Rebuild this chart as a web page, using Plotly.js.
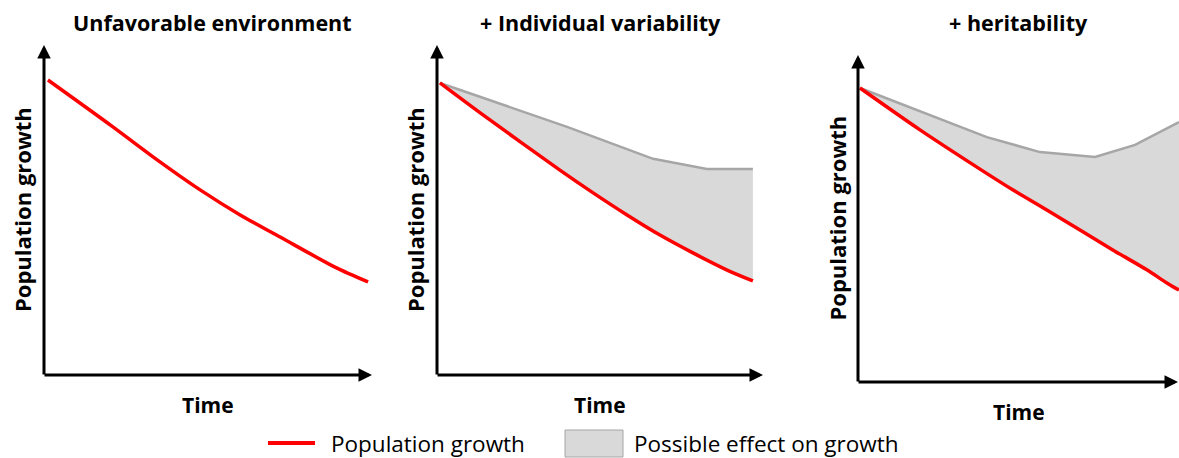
<!DOCTYPE html>
<html><head><meta charset="utf-8">
<script src="https://cdn.plot.ly/plotly-3.0.1.min.js"></script>
<style>html,body{margin:0;padding:0;background:#fff}#chart{width:1179px;height:458px}</style>
</head><body><div id="chart"></div>
<script>
// ---- text ----
const panelTitles = ["Unfavorable environment", "+ Individual variability", "+ heritability"];
const xLabel = "Time";
const yLabel = "Population growth";
const legendLabels = ["Population growth", "Possible effect on growth"];

// ---- panel 1: unfavorable environment ----
const p1Time   = [0.12, 2.10, 3.45, 4.76, 5.98, 7.20, 8.87, 9.88];
const p1Growth = [8.94, 7.52, 6.52, 5.61, 4.85, 4.18, 3.27, 2.82];

// ---- panel 2: + individual variability ----
const p2Time     = [0.09, 1.41, 3.77, 4.79, 5.83, 6.84, 7.85, 8.90, 9.69];
const p2Growth   = [8.85, 7.88, 6.21, 5.52, 4.85, 4.24, 3.70, 3.18, 2.85];
const p2UpperTime = [0.09, 3.99, 6.63, 8.28, 9.69];
const p2Upper     = [8.85, 7.52, 6.55, 6.24, 6.24];

// ---- panel 3: + heritability ----
const p3Time     = [0.06, 1.89, 3.72, 4.73, 5.76, 6.77, 7.77, 8.81, 9.42, 9.79];
const p3Growth   = [8.99, 7.71, 6.51, 5.87, 5.26, 4.65, 4.04, 3.43, 3.03, 2.81];
const p3UpperTime = [0.06, 3.93, 5.55, 7.23, 8.45, 9.79];
const p3Upper     = [8.99, 7.49, 7.03, 6.88, 7.25, 7.95];

// ---- styling ----
const W = 1179, H = 458;
const RED = "#ff0000", FILL = "#d9d9d9", EDGE = "#a6a6a6";
const FONT = "'Open Sans', Lato, sans-serif";

const px2x = p => p / W;
const py2y = p => 1 - p / H;

const dom = [
  {x: [px2x(44),  px2x(372)], y: [py2y(375), py2y(45)], xr: [0, 10],   yr: [0, 10]},
  {x: [px2x(437), px2x(763)], y: [py2y(375), py2y(45)], xr: [0, 10],   yr: [0, 10]},
  {x: [px2x(858), 1],         y: [py2y(382), py2y(55)], xr: [0, 9.79], yr: [0, 10]}
];

const redLine = {color: RED, width: 3.5, shape: "spline", smoothing: 0.8};
const hiddenLine = {color: "rgba(0,0,0,0)", width: 1, shape: "spline", smoothing: 0.8};

const traces = [
  {x: p1Time, y: p1Growth, xaxis: "x", yaxis: "y", mode: "lines", line: redLine, hoverinfo: "skip"},

  {x: p2Time, y: p2Growth, xaxis: "x2", yaxis: "y2", mode: "lines", line: hiddenLine, hoverinfo: "skip"},
  {x: p2UpperTime, y: p2Upper, xaxis: "x2", yaxis: "y2", mode: "lines", fill: "tonexty",
   fillcolor: FILL, line: {color: EDGE, width: 2.5}, hoverinfo: "skip"},
  {x: p2Time, y: p2Growth, xaxis: "x2", yaxis: "y2", mode: "lines", line: redLine, hoverinfo: "skip"},

  {x: p3Time, y: p3Growth, xaxis: "x3", yaxis: "y3", mode: "lines", line: hiddenLine, hoverinfo: "skip"},
  {x: p3UpperTime, y: p3Upper, xaxis: "x3", yaxis: "y3", mode: "lines", fill: "tonexty",
   fillcolor: FILL, line: {color: EDGE, width: 2.5}, hoverinfo: "skip"},
  {x: p3Time, y: p3Growth, xaxis: "x3", yaxis: "y3", mode: "lines", line: redLine, hoverinfo: "skip"}
];

const layout = {
  width: W, height: H,
  margin: {l: 0, r: 0, t: 0, b: 0},
  paper_bgcolor: "#fff", plot_bgcolor: "#fff",
  showlegend: false,
  font: {family: FONT, color: "#000"},
  annotations: [], shapes: []
};

const axisBase = {showgrid: false, zeroline: false, showticklabels: false, ticks: "", showline: false, fixedrange: true};
dom.forEach((d, i) => {
  const s = i === 0 ? "" : String(i + 1);
  layout["xaxis" + s] = Object.assign({}, axisBase, {domain: d.x, range: d.xr, anchor: "y" + s});
  layout["yaxis" + s] = Object.assign({}, axisBase, {domain: d.y, range: d.yr, anchor: "x" + s});

  const x0 = d.x[0], y0 = d.y[0];
  const hPx = (d.y[1] - d.y[0]) * H;
  const xEnd = i === 2 ? d.x[1] + 9 / W : d.x[1];
  const xLen = (xEnd - x0) * W;
  // y axis arrow
  layout.annotations.push({xref: "paper", yref: "paper", x: x0, y: d.y[1], ax: 0, ay: hPx + 1,
    axref: "pixel", ayref: "pixel", showarrow: true, arrowhead: 2, arrowsize: 0.9, arrowwidth: 3,
    arrowcolor: "#000", text: ""});
  // x axis arrow
  layout.annotations.push({xref: "paper", yref: "paper", x: xEnd, y: y0, ax: -xLen - 1, ay: 0,
    axref: "pixel", ayref: "pixel", showarrow: true, arrowhead: 2, arrowsize: 0.9, arrowwidth: 3,
    arrowcolor: "#000", text: ""});
  // title
  layout.annotations.push({xref: "paper", yref: "paper", x: (d.x[0] + d.x[1]) / 2 + (i === 0 ? 4 / W : 0), y: py2y(23),
    xanchor: "center", yanchor: "middle", showarrow: false, text: "<b>" + panelTitles[i] + "</b>",
    font: {size: 21.5, family: FONT, color: "#000"}});
  // x label
  layout.annotations.push({xref: "paper", yref: "paper", x: (d.x[0] + d.x[1]) / 2, y: y0, yshift: -30,
    xanchor: "center", yanchor: "middle", showarrow: false, text: "<b>" + xLabel + "</b>",
    font: {size: 21, family: FONT, color: "#000"}});
  // y label
  layout.annotations.push({xref: "paper", yref: "paper", x: x0, xshift: -22, y: (d.y[0] + d.y[1]) / 2,
    xanchor: "center", yanchor: "middle", textangle: -90, showarrow: false, text: "<b>" + yLabel + "</b>",
    font: {size: 22, family: FONT, color: "#000"}});
});

// ---- legend (drawn manually) ----
layout.shapes.push({type: "line", xref: "paper", yref: "paper", x0: px2x(268), x1: px2x(315),
  y0: py2y(443), y1: py2y(443), line: {color: RED, width: 4}});
layout.shapes.push({type: "rect", xref: "paper", yref: "paper", x0: px2x(565), x1: px2x(623),
  y0: py2y(457), y1: py2y(430), fillcolor: FILL, line: {color: EDGE, width: 1}});
layout.annotations.push({xref: "paper", yref: "paper", x: px2x(329), y: py2y(443), xanchor: "left", yanchor: "middle",
  showarrow: false, text: legendLabels[0], font: {size: 22.5, family: FONT, color: "#000"}});
layout.annotations.push({xref: "paper", yref: "paper", x: px2x(632), y: py2y(443), xanchor: "left", yanchor: "middle",
  showarrow: false, text: legendLabels[1], font: {size: 22.5, family: FONT, color: "#000"}});

Plotly.newPlot("chart", traces, layout, {staticPlot: true, displayModeBar: false});
</script>
</body></html>
